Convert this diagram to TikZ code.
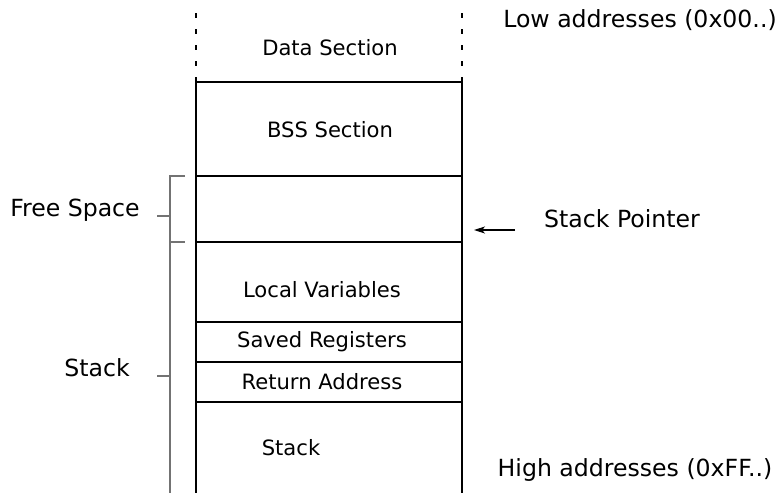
\documentclass[tikz,border=0pt]{standalone}
\usepackage{fontspec}
\setmainfont{DejaVu Sans}
\usetikzlibrary{arrows.meta}
\begin{document}
\begin{tikzpicture}[x=1pt,y=-1pt,
  inner/.style={font=\fontsize{21.1}{25}\selectfont,inner sep=0pt},
  outer/.style={font=\fontsize{23.6}{28}\selectfont,inner sep=0pt},
  wall/.style={draw=black,line width=1.2pt},
  dwall/.style={draw=black,line width=1.5pt,dash pattern=on 5pt off 11pt},
  brace/.style={draw=gray!90!black,line width=1.3pt}]
\useasboundingbox (0,0) rectangle (780,493);
% corners
\coordinate (tl) at (196,13);
\coordinate (tr) at (462,13);
\coordinate (dl) at (196,82);
\coordinate (dr) at (462,82);
\coordinate (bl) at (196,176);
\coordinate (br) at (462,176);
\coordinate (fl) at (196,242);
\coordinate (fr) at (462,242);
\coordinate (ll) at (196,322);
\coordinate (lr) at (462,322);
\coordinate (sl) at (196,362);
\coordinate (sr) at (462,362);
\coordinate (rl) at (196,402);
\coordinate (rr) at (462,402);
\coordinate (el) at (196,493);
\coordinate (er) at (462,493);
% walls
\draw[dwall] (tl) -- (dl);
\draw[dwall] (tr) -- (dr);
\draw[wall] (dl) -- (el);
\draw[wall] (dr) -- (er);
\draw[wall] (dl) -- (dr);
\draw[wall] (bl) -- (br);
\draw[wall] (fl) -- (fr);
\draw[wall] (ll) -- (lr);
\draw[wall] (sl) -- (sr);
\draw[wall] (rl) -- (rr);
% section labels
\node[inner] (data) at (330,48) {Data Section};
\node[inner] (bss) at (330,130) {BSS Section};
\node[inner] (local) at (322,290) {Local Variables};
\node[inner] (saved) at (322,342) {Saved Registers};
\node[inner] (ret) at (322,382) {Return Address};
\node[inner] (stk) at (291,448) {Stack};
% braces
\coordinate (b1) at (170,176);
\coordinate (b1e) at (185,176);
\coordinate (b2) at (170,242);
\coordinate (b2e) at (185,242);
\coordinate (b3) at (170,493);
\coordinate (m1) at (170,216);
\coordinate (m1e) at (157,216);
\coordinate (m2) at (170,376);
\coordinate (m2e) at (157,376);
\draw[brace] (b1e) -- (b1) -- (b3);
\draw[brace] (b2) -- (b2e);
\draw[brace] (m1) -- (m1e);
\draw[brace] (m2) -- (m2e);
\node[outer] (free) at (75,210) {Free Space};
\node[outer] (stacklbl) at (97,368) {Stack};
% stack pointer
\node[outer] (sp) at (622,219) {Stack Pointer};
\coordinate (spa) at (515,230);
\coordinate (spb) at (474,230);
\draw[line width=1.2pt,-{Stealth[length=11pt,width=7pt,inset=3pt]}] (spa) -- (spb);
\node[outer] (low) at (640,20) {Low addresses (0x00..)};
\node[outer] (high) at (635,470) {High addresses (0xFF..)};
\end{tikzpicture}
\end{document}
